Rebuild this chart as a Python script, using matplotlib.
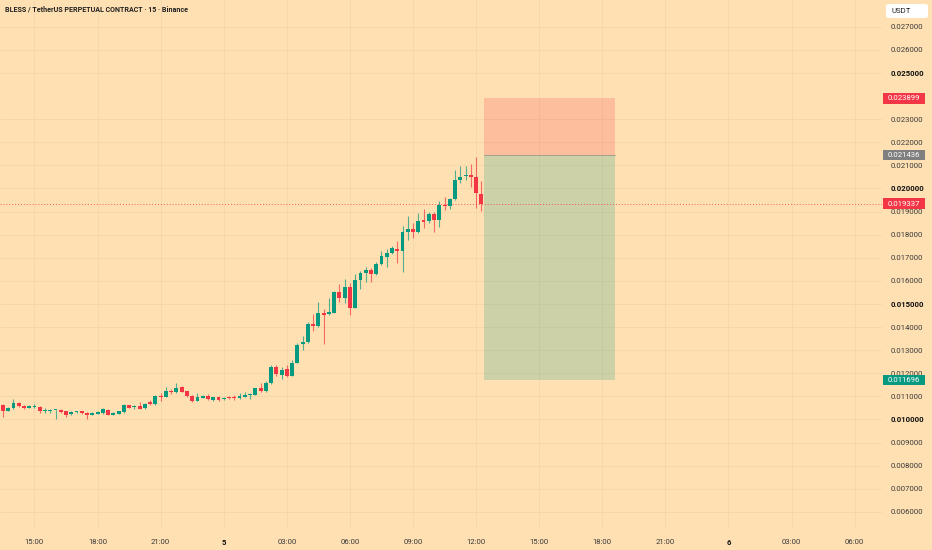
import matplotlib
matplotlib.use("Agg")
import matplotlib.pyplot as plt
import matplotlib.transforms as mtransforms
from matplotlib.patches import Rectangle, FancyBboxPatch

# 15 minute candles, first one at 13:30 of day 4 (hours relative to day 5 00:00)
start_hour = -10.5
opens = [0.01062, 0.01037, 0.01048, 0.01069, 0.01060, 0.01050, 0.01055, 0.01055, 0.01036, 0.01037,
         0.01039, 0.01042, 0.01036, 0.01024, 0.01030, 0.01035, 0.01027, 0.01021, 0.01024, 0.01026,
         0.01042, 0.01019, 0.01025, 0.01031, 0.01061, 0.01052, 0.01058, 0.01048, 0.01077, 0.01065,
         0.01100, 0.01098, 0.01124, 0.01117, 0.01139, 0.01121, 0.01103, 0.01080, 0.01094, 0.01101,
         0.01084, 0.01097, 0.01087, 0.01095, 0.01095, 0.01091, 0.01098, 0.01107, 0.01107, 0.01134,
         0.01124, 0.01156, 0.01225, 0.01192, 0.01218, 0.01189, 0.01246, 0.01325, 0.01334, 0.01414,
         0.01404, 0.01459, 0.01455, 0.01462, 0.01550, 0.01527, 0.01573, 0.01484, 0.01603, 0.01635,
         0.01647, 0.01628, 0.01671, 0.01702, 0.01719, 0.01739, 0.01729, 0.01810, 0.01824, 0.01810,
         0.01862, 0.01859, 0.01889, 0.01863, 0.01930, 0.01925, 0.01954, 0.02036, 0.02052, 0.02059,
         0.02048, 0.01976]
highs = [0.01067, 0.01055, 0.01087, 0.01077, 0.01064, 0.01064, 0.01065, 0.01058, 0.01048, 0.01047,
         0.01042, 0.01047, 0.01038, 0.01036, 0.01038, 0.01036, 0.01032, 0.01031, 0.01036, 0.01048,
         0.01045, 0.01032, 0.01038, 0.01067, 0.01064, 0.01061, 0.01074, 0.01070, 0.01084, 0.01104,
         0.01113, 0.01141, 0.01132, 0.01159, 0.01145, 0.01124, 0.01106, 0.01113, 0.01104, 0.01108,
         0.01098, 0.01101, 0.01098, 0.01101, 0.01104, 0.01116, 0.01117, 0.01113, 0.01137, 0.01156,
         0.01168, 0.01235, 0.01235, 0.01228, 0.01235, 0.01257, 0.01332, 0.01361, 0.01422, 0.01456,
         0.01507, 0.01476, 0.01524, 0.01556, 0.01585, 0.01606, 0.01589, 0.01629, 0.01644, 0.01661,
         0.01654, 0.01683, 0.01730, 0.01736, 0.01751, 0.01774, 0.01837, 0.01882, 0.01849, 0.01895,
         0.01909, 0.01898, 0.01896, 0.01947, 0.01964, 0.01960, 0.02080, 0.02097, 0.02098, 0.02106,
         0.02137, 0.02034]
lows = [0.01012, 0.01036, 0.01046, 0.01052, 0.01044, 0.01048, 0.01049, 0.01026, 0.01026, 0.01029,
        0.01000, 0.01026, 0.01012, 0.01021, 0.01028, 0.01025, 0.01001, 0.01018, 0.01022, 0.01023,
        0.01018, 0.01018, 0.01023, 0.01029, 0.01048, 0.01044, 0.01044, 0.01045, 0.01062, 0.01062,
        0.01081, 0.01095, 0.01109, 0.01116, 0.01117, 0.01098, 0.01074, 0.01078, 0.01091, 0.01084,
        0.01081, 0.01081, 0.01084, 0.01087, 0.01084, 0.01090, 0.01095, 0.01087, 0.01104, 0.01120,
        0.01120, 0.01155, 0.01188, 0.01173, 0.01182, 0.01188, 0.01243, 0.01300, 0.01329, 0.01381,
        0.01401, 0.01325, 0.01452, 0.01459, 0.01507, 0.01505, 0.01452, 0.01481, 0.01563, 0.01596,
        0.01593, 0.01625, 0.01668, 0.01661, 0.01716, 0.01679, 0.01640, 0.01777, 0.01787, 0.01805,
        0.01827, 0.01849, 0.01813, 0.01834, 0.01906, 0.01909, 0.01950, 0.02022, 0.02036, 0.02007,
        0.01914, 0.01904]
closes = [0.01038, 0.01050, 0.01069, 0.01059, 0.01048, 0.01058, 0.01058, 0.01036, 0.01039, 0.01040,
          0.01042, 0.01033, 0.01019, 0.01032, 0.01036, 0.01026, 0.01019, 0.01026, 0.01033, 0.01044,
          0.01020, 0.01029, 0.01036, 0.01062, 0.01049, 0.01058, 0.01045, 0.01067, 0.01067, 0.01101,
          0.01096, 0.01123, 0.01117, 0.01137, 0.01119, 0.01101, 0.01078, 0.01095, 0.01101, 0.01087,
          0.01095, 0.01084, 0.01094, 0.01092, 0.01092, 0.01101, 0.01107, 0.01110, 0.01134, 0.01124,
          0.01159, 0.01225, 0.01195, 0.01216, 0.01188, 0.01246, 0.01323, 0.01335, 0.01413, 0.01406,
          0.01459, 0.01453, 0.01463, 0.01551, 0.01527, 0.01573, 0.01484, 0.01603, 0.01635, 0.01647,
          0.01629, 0.01671, 0.01707, 0.01722, 0.01741, 0.01729, 0.01810, 0.01824, 0.01813, 0.01859,
          0.01856, 0.01889, 0.01863, 0.01928, 0.01925, 0.01954, 0.02036, 0.02051, 0.02059, 0.02051,
          0.01979, 0.019337]

# long position tool
pos_start, pos_end = 12.37, 18.60   # hours
target_price = 0.023899
entry_price = 0.021436
stop_price = 0.011696
last_price = 0.019337

price_ticks = [0.006, 0.007, 0.008, 0.009, 0.010, 0.011, 0.012, 0.013, 0.014, 0.015, 0.016,
               0.017, 0.018, 0.019, 0.020, 0.021, 0.022, 0.023, 0.025, 0.026, 0.027]
bold_prices = [0.010, 0.015, 0.020, 0.025]
time_ticks = [-9, -6, -3, 0, 3, 6, 9, 12, 15, 18, 21, 24, 27, 30]
time_labels = ["15:00", "18:00", "21:00", "5", "03:00", "06:00", "09:00", "12:00",
               "15:00", "18:00", "21:00", "6", "03:00", "06:00"]

BG = "#FFE0B2"
GREEN = "#089981"
RED = "#F23645"
GRID = "#F4D6A9"
TXT = "#3a3a3a"

W, H = 932, 550
fig = plt.figure(figsize=(W / 100, H / 100), dpi=100, facecolor=BG)
ax_right_px, ax_bottom_px = 882, 528
ax = fig.add_axes([0, 1 - ax_bottom_px / H, ax_right_px / W, ax_bottom_px / H])
ax.set_facecolor(BG)
for s in ax.spines.values():
    s.set_visible(False)

ax.set_xlim(-10.64, 31.3)
ax.set_ylim(0.005299, 0.028156)

ax.set_yticks(price_ticks)
ax.yaxis.tick_right()
ax.set_yticklabels(["%.6f" % p for p in price_ticks])
ax.tick_params(axis="y", length=0, pad=6, labelsize=5.6, labelcolor=TXT)
for lbl, p in zip(ax.get_yticklabels(), price_ticks):
    lbl.set_family("Roboto")
    if any(abs(p - b) < 1e-9 for b in bold_prices):
        lbl.set_fontweight("bold")
        lbl.set_color("#111111")

ax.set_xticks(time_ticks)
ax.set_xticklabels(time_labels)
ax.tick_params(axis="x", length=0, pad=8, labelsize=5.6, labelcolor=TXT)
for lbl, t in zip(ax.get_xticklabels(), time_labels):
    lbl.set_family("Roboto")
    if ":" not in t:
        lbl.set_fontweight("bold")
        lbl.set_color("#111111")

ax.grid(True, color=GRID, linewidth=0.6)
ax.set_axisbelow(True)

# position boxes
ax.add_patch(Rectangle((pos_start, entry_price), pos_end - pos_start, target_price - entry_price,
                       facecolor=RED, alpha=0.2, edgecolor="none", zorder=1))
ax.add_patch(Rectangle((pos_start, stop_price), pos_end - pos_start, entry_price - stop_price,
                       facecolor=GREEN, alpha=0.2, edgecolor="none", zorder=1))
ax.plot([pos_start, pos_end], [entry_price, entry_price], color="#9a9a8a", linewidth=0.6, zorder=2)

# candles
bw = 0.25 * 0.74
min_h = 0.00005
for i in range(len(opens)):
    t = start_hour + i * 0.25
    o, h, l, c = opens[i], highs[i], lows[i], closes[i]
    col = GREEN if c >= o else RED
    ax.plot([t, t], [l, h], color=col, linewidth=0.8, alpha=0.7, zorder=3, solid_capstyle="butt")
    lo = min(o, c)
    hgt = max(abs(c - o), min_h)
    ax.add_patch(Rectangle((t - bw / 2, lo), bw, hgt, facecolor=col, edgecolor="none", zorder=4))

# last price line
ax.axhline(last_price, color=RED, linewidth=0.7, linestyle=(0, (1, 2)), alpha=0.8, zorder=2)

# price labels on the right scale
trans = mtransforms.blended_transform_factory(ax.transAxes, ax.transData)
box_x0 = 883 / ax_right_px
box_w = 42 / ax_right_px
box_h = 10.5 / (ax_bottom_px / (0.028156 - 0.005299))
for price, col in [(target_price, RED), (entry_price, "#7f7f7f"), (last_price, RED), (stop_price, GREEN)]:
    ax.add_patch(Rectangle((box_x0, price - box_h / 2), box_w, box_h, transform=trans,
                           facecolor=col, edgecolor="none", clip_on=False, zorder=5))
    ax.text(box_x0 + 5 / ax_right_px, price, "%.6f" % price, transform=trans, color="white",
            fontsize=5.6, family="Roboto", va="center", ha="left", clip_on=False, zorder=6)

# USDT box
fig.patches.append(FancyBboxPatch((886 / W, 1 - 18 / H), 42 / W, 14 / H,
                                  boxstyle="round,pad=0,rounding_size=0.004",
                                  transform=fig.transFigure, facecolor="white", edgecolor="none"))
fig.text(891 / W, 1 - 11 / H, "USDT", fontsize=5.6, family="Roboto", color="#222222", va="center")

fig.text(5 / W, 1 - 10 / H, "BLESS / TetherUS PERPETUAL CONTRACT · 15 · Binance",
         fontsize=5.1, family="Roboto", fontweight="bold", color="#222222", va="center")

fig.savefig("out.png", dpi=100, facecolor=BG)
